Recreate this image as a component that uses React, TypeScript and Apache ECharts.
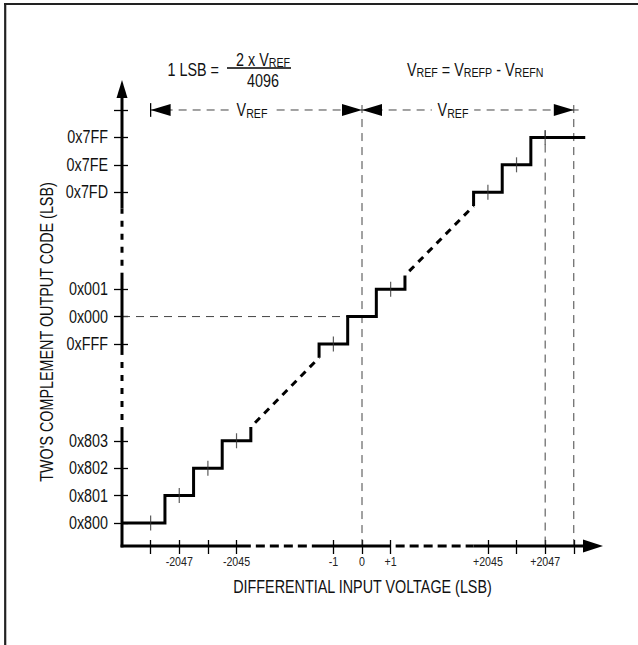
import React, { useEffect, useRef } from 'react';
import * as echarts from 'echarts';

// ---------------- data ----------------
const outputCodeLabels = ['0x800', '0x801', '0x802', '0x803', '0xFFF', '0x000', '0x001', '0x7FD', '0x7FE', '0x7FF'];
const outputCodeValues = [-2048, -2047, -2046, -2045, -1, 0, 1, 2045, 2046, 2047]; // signed LSB
const codeGroups = [0, 0, 0, 0, 1, 1, 1, 2, 2, 2];
const inputTickValues = [-2048, -2047, -2046, -2045, -1, 0, 1, 2045, 2046, 2047, 2048];
const inputTickLabels = ['', '-2047', '', '-2045', '-1', '0', '+1', '+2045', '', '+2047', ''];
const inputRangeStart = -2049;
const inputRangeEnd = 2048.4;
const vrefLsb = 2048;
const vrefRowCode = 2048;

// ---------------- layout (broken axes) ----------------
const X_MAX = 16.8;
const Y_MAX = 17;
const X_SEGMENTS = [
  { upTo: -1000, ref: -2048, at: 1 },
  { upTo: 1000, ref: 0, at: 8.383 },
  { upTo: Infinity, ref: 2048, at: 15.78 },
];
const Y_SEGMENTS = [
  { upTo: -1000, ref: -2048, at: 0.839 },
  { upTo: 1000, ref: 0, at: 8.37 },
  { upTo: Infinity, ref: 2048, at: 15.906 },
];
const X_BREAKS = [[-2044.5, -1.75], [1, 2044.5]];
const Y_BREAKS = [[-2044.5, -1.4], [1.6, 2044.4]];

const xPos = (v: number) => {
  const s = X_SEGMENTS.find((g) => v <= g.upTo)!;
  return s.at + (v - s.ref);
};
const yPos = (v: number) => {
  const s = Y_SEGMENTS.find((g) => v <= g.upTo)!;
  return s.at + (v - s.ref);
};

const FONT = "'Liberation Sans', Arial, Helvetica, sans-serif";
const NARROW = 0.82; // horizontal squeeze -> Helvetica/Arial Narrow look
const INK = '#111';
const BIG = 17.5;
const SMALL = 13;

function lineSeries(data: number[][], style: any, z = 3) {
  return {
    type: 'line',
    data,
    symbol: 'none',
    silent: true,
    clip: false,
    z,
    lineStyle: { color: '#000', width: 3, cap: 'butt', join: 'miter', ...style },
  };
}

function richSub(parts: [string, string][]) {
  return parts.map(([m, s]) => `{m|${m}}` + (s ? `{s|${s}}` : '')).join('');
}
const RICH = {
  m: { fontSize: BIG, fontFamily: FONT, color: INK, lineHeight: 20 },
  s: { fontSize: SMALL, fontFamily: FONT, color: INK, lineHeight: 20, padding: [7, 0, 0, 0] },
};

function textEl(x: number, y: number, text: string, align: string, extra: any = {}) {
  const { style: extraStyle, ...rest } = extra;
  return {
    type: 'text',
    x,
    y,
    scaleX: NARROW,
    silent: true,
    ...rest,
    style: {
      text,
      rich: RICH,
      fill: INK,
      fontSize: BIG,
      fontFamily: FONT,
      align,
      verticalAlign: 'middle',
      textAlign: align,
      textVerticalAlign: 'middle',
      ...(extraStyle || {}),
    },
  };
}

function buildOption() {
  const series: any[] = [];

  // axis lines (solid / dashed break pieces)
  const axisPieces = (breaks: number[][], pos: (v: number) => number, start: number, end: number) => {
    const pieces: { a: number; b: number; dashed: boolean }[] = [];
    let cur = start;
    breaks.forEach(([s, e]) => {
      pieces.push({ a: cur, b: pos(s), dashed: false });
      pieces.push({ a: pos(s), b: pos(e), dashed: true });
      cur = pos(e);
    });
    pieces.push({ a: cur, b: end, dashed: false });
    return pieces;
  };
  axisPieces(X_BREAKS, xPos, -0.05, X_MAX - 0.4).forEach((p) =>
    series.push(lineSeries([[p.a, 0], [p.b, 0]], p.dashed ? { type: [9, 5], dashOffset: 9 } : {}, 3))
  );
  axisPieces(Y_BREAKS, yPos, -0.05, Y_MAX - 0.4).forEach((p) =>
    series.push(lineSeries([[0, p.a], [0, p.b]], p.dashed ? { type: [6, 7], dashOffset: 6 } : {}, 3))
  );

  // thin dashed reference lines
  const thin = { width: 1, color: '#444', type: [8, 6] };
  series.push(lineSeries([[xPos(0), yPos(vrefRowCode + 0.18)], [xPos(0), 0]], thin, 1));
  series.push(lineSeries([[xPos(2047), yPos(2047.25)], [xPos(2047), 0]], thin, 1));
  series.push(lineSeries([[xPos(vrefLsb), yPos(vrefRowCode + 0.18)], [xPos(vrefLsb), 0]], thin, 1));
  series.push(lineSeries([[0, yPos(0)], [xPos(-0.5), yPos(0)]], thin, 1));
  series.push(lineSeries([[xPos(-vrefLsb), yPos(vrefRowCode)], [xPos(vrefLsb + 0.3), yPos(vrefRowCode)]], thin, 1));
  series.push(
    lineSeries(
      [[xPos(-vrefLsb), yPos(vrefRowCode - 0.25)], [xPos(-vrefLsb), yPos(vrefRowCode + 0.25)]],
      { width: 1.3, color: '#000' },
      2
    )
  );

  // transfer function staircase
  const last = outputCodeValues.length - 1;
  const groups = Array.from(new Set(codeGroups));
  const groupIdx = groups.map((g) => codeGroups.map((cg, i) => (cg === g ? i : -1)).filter((i) => i >= 0));
  groupIdx.forEach((idxs) => {
    const pts: number[][] = [];
    idxs.forEach((i, k) => {
      const c = outputCodeValues[i];
      const start = i === 0 ? inputRangeStart : c - 0.5;
      const end = i === last ? inputRangeEnd : c + 0.5;
      if (k === 0 && i !== 0) pts.push([xPos(start), yPos(c - 0.5)]);
      pts.push([xPos(start), yPos(c)]);
      pts.push([xPos(end), yPos(c)]);
      if (k === idxs.length - 1 && i !== last) pts.push([xPos(end), yPos(c + 0.5)]);
    });
    series.push(lineSeries(pts, {}, 4));
  });
  for (let g = 0; g < groupIdx.length - 1; g++) {
    const a = outputCodeValues[groupIdx[g][groupIdx[g].length - 1]] + 0.5;
    const b = outputCodeValues[groupIdx[g + 1][0]] - 0.5;
    series.push(lineSeries([[xPos(a), yPos(a)], [xPos(b), yPos(b)]], { type: [7, 6], dashOffset: 7 }, 4));
  }

  // small ticks on each code step
  series.push({
    type: 'scatter',
    silent: true,
    symbol: 'rect',
    symbolSize: [1.2, 15],
    itemStyle: { color: '#333' },
    z: 5,
    data: outputCodeValues.filter((c) => c !== 0).map((c) => [xPos(c), yPos(c)]),
  });

  // arrow heads
  const ARROWS: Record<number, { dir: string; l: number; w: number }> = {
    0: { dir: 'up', l: 18, w: 5.5 },
    1: { dir: 'right', l: 20, w: 6.5 },
    2: { dir: 'right', l: 20, w: 6 },
    3: { dir: 'left', l: 20, w: 6 },
  };
  series.push({
    type: 'custom',
    coordinateSystem: 'cartesian2d',
    silent: true,
    clip: false,
    z: 6,
    data: [
      [0, Y_MAX, 0],
      [X_MAX, 0, 1],
      [xPos(-vrefLsb), yPos(vrefRowCode), 3],
      [xPos(0), yPos(vrefRowCode), 2],
      [xPos(0), yPos(vrefRowCode), 3],
      [xPos(vrefLsb), yPos(vrefRowCode), 2],
    ],
    renderItem: (params: any, api: any) => {
      const [px, py] = api.coord([api.value(0), api.value(1)]);
      const spec = ARROWS[api.value(2)];
      let pts: number[][];
      if (spec.dir === 'up') pts = [[px, py], [px - spec.w, py + spec.l], [px + spec.w, py + spec.l]];
      else if (spec.dir === 'right') pts = [[px, py], [px - spec.l, py - spec.w], [px - spec.l, py + spec.w]];
      else pts = [[px, py], [px + spec.l, py - spec.w], [px + spec.l, py + spec.w]];
      return { type: 'polygon', shape: { points: pts }, style: { fill: '#000' } };
    },
  });

  // tick labels (narrow type), placed through the axes' scales
  const yLabelItems = outputCodeValues.map((v, i) => ({ p: yPos(v), t: outputCodeLabels[i] }));
  const xLabelItems = inputTickValues
    .map((v, i) => ({ p: xPos(v), t: inputTickLabels[i] }))
    .filter((d) => d.t !== '');
  series.push({
    type: 'custom',
    coordinateSystem: 'cartesian2d',
    silent: true,
    clip: false,
    z: 6,
    data: yLabelItems.map((d) => [0, d.p]),
    renderItem: (params: any, api: any) => {
      const [px, py] = api.coord([api.value(0), api.value(1)]);
      return {
        type: 'text',
        x: px - 14,
        y: py,
        scaleX: NARROW,
        style: {
          text: yLabelItems[params.dataIndex].t,
          fill: INK,
          fontSize: BIG,
          fontFamily: FONT,
          align: 'right',
          verticalAlign: 'middle',
          textAlign: 'right',
          textVerticalAlign: 'middle',
        },
      };
    },
  });
  series.push({
    type: 'custom',
    coordinateSystem: 'cartesian2d',
    silent: true,
    clip: false,
    z: 6,
    data: xLabelItems.map((d) => [d.p, 0]),
    renderItem: (params: any, api: any) => {
      const [px, py] = api.coord([api.value(0), api.value(1)]);
      return {
        type: 'text',
        x: px,
        y: py + 16,
        scaleX: NARROW,
        style: {
          text: xLabelItems[params.dataIndex].t,
          fill: '#222',
          fontSize: SMALL,
          fontFamily: FONT,
          align: 'center',
          verticalAlign: 'middle',
          textAlign: 'center',
          textVerticalAlign: 'middle',
        },
      };
    },
  });

  const xTickPos = inputTickValues.map(xPos);
  const yTickPos = outputCodeValues.map(yPos).concat([yPos(vrefRowCode)]);
  const tickStyle = { color: '#000', width: 1.3 };
  const baseAxis = {
    type: 'value',
    splitLine: { show: false },
    axisLine: { show: false },
    axisLabel: { show: false },
  };

  return {
    animation: false,
    backgroundColor: '#fff',
    grid: { left: 122, top: 80, width: 481, height: 466, containLabel: false, outerBoundsMode: 'none' },
    xAxis: [
      {
        ...baseAxis,
        min: 0,
        max: X_MAX,
        position: 'bottom',
        axisTick: { show: true, customValues: xTickPos, length: 8, lineStyle: tickStyle },
      },
      {
        ...baseAxis,
        min: 0,
        max: X_MAX,
        position: 'bottom',
        axisTick: { show: true, inside: true, customValues: xTickPos, length: 6, lineStyle: tickStyle },
      },
    ],
    yAxis: [
      {
        ...baseAxis,
        min: 0,
        max: Y_MAX,
        position: 'left',
        axisTick: { show: true, customValues: yTickPos, length: 8, lineStyle: tickStyle },
      },
      {
        ...baseAxis,
        min: 0,
        max: Y_MAX,
        position: 'left',
        axisTick: { show: true, inside: true, customValues: yTickPos, length: 6, lineStyle: tickStyle },
      },
    ],
    graphic: [
      { type: 'line', silent: true, shape: { x1: 4, y1: 4, x2: 638, y2: 4 }, style: { stroke: '#222', lineWidth: 2.2 } },
      { type: 'line', silent: true, shape: { x1: 5.2, y1: 3, x2: 5.2, y2: 645 }, style: { stroke: '#222', lineWidth: 2.2 } },
      textEl(47, 332, "TWO'S COMPLEMENT OUTPUT CODE (LSB)", 'center', { rotation: Math.PI / 2 }),
      textEl(362.5, 587, 'DIFFERENTIAL INPUT VOLTAGE (LSB)', 'center'),
      textEl(219, 70, richSub([['1 LSB =', '']]), 'right'),
      textEl(263, 59.5, richSub([['2 x V', 'REF']]), 'center'),
      textEl(263, 81, richSub([['4096', '']]), 'center'),
      { type: 'line', silent: true, shape: { x1: 227, y1: 68, x2: 291, y2: 68 }, style: { stroke: '#000', lineWidth: 1.3 } },
      textEl(407, 69.5, richSub([['V', 'REF'], [' = V', 'REFP'], [' - V', 'REFN']]), 'left'),
      textEl(252, 110, richSub([['V', 'REF']]), 'center', { z: 10, style: { backgroundColor: '#fff', padding: [0, 7] } }),
      textEl(453, 110, richSub([['V', 'REF']]), 'center', { z: 10, style: { backgroundColor: '#fff', padding: [0, 7] } }),
    ],
    series,
  };
}

export default function App() {
  const ref = useRef<HTMLDivElement>(null);
  useEffect(() => {
    const chart = echarts.init(ref.current!, undefined, { renderer: 'svg' });
    chart.setOption(buildOption() as any);
    return () => chart.dispose();
  }, []);
  return (
    <div
      ref={ref}
      style={{ position: 'absolute', left: 0, top: 0, width: 638, height: 645, background: '#fff' }}
    />
  );
}
